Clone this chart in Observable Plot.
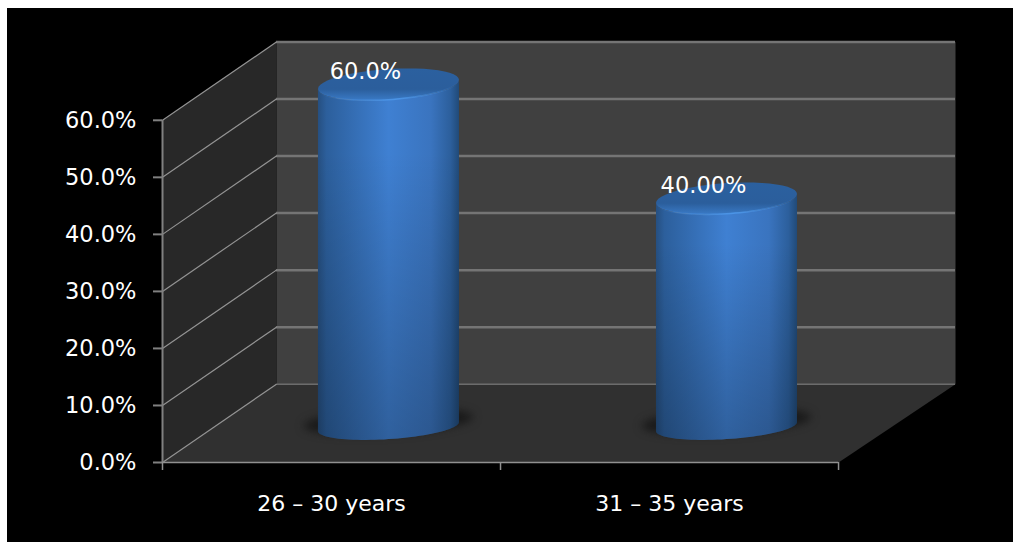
<!DOCTYPE html>
<html>
<head>
<meta charset="utf-8">
<script src="https://cdn.jsdelivr.net/npm/d3@7"></script>
<script src="https://cdn.jsdelivr.net/npm/@observablehq/plot@0.6"></script>
<style>
  html, body { margin: 0; padding: 0; background: #fff; overflow: hidden; }
  #chart { position: absolute; left: 7px; top: 8px; }
  #chart svg { display: block; background: #000; }
</style>
</head>
<body>
<div id="chart"></div>
<script>
// Share of respondents per age group
const categories = ["26 – 30 years", "31 – 35 years"];
const shares = [60, 40];
const shareLabels = ["60.0%", "40.00%"];
const axisTicks = [0, 10, 20, 30, 40, 50, 60];
const axisMax = 60;

// Oblique projection: one unit of depth moves right and up, in scale units
const depthX = 0.337;
const depthY = 13.73;
const xEnd = categories.length;
const backRight = 2.346;

// Cylinder outline, in scale units
const radiusX = 0.2086;
const tiltY = 0.79;
const radiusY = 2.69;
const baseRadiusY = 2.2;
const centreDepthX = depthX / 2;
const centreDepthY = 6.3;

const centreX = i => i + 0.5 + centreDepthX;
const centreY = v => v + centreDepthY;
const rimX = (i, t) => centreX(i) + radiusX * Math.cos(t);
const rimY = (v, t, ry = radiusY) => centreY(v) + tiltY * Math.cos(t) + ry * Math.sin(t);
const sweep = (from, to, n = 48) => d3.range(n + 1).map(k => from + (to - from) * k / n);

const backWall = [[depthX, depthY], [backRight, depthY], [backRight, axisMax + depthY], [depthX, axisMax + depthY]];
const sideWall = [[0, 0], [depthX, depthY], [depthX, axisMax + depthY], [0, axisMax]];
const floor = [[0, 0], [xEnd, 0], [backRight, depthY], [depthX, depthY]];

const bodies = shares.flatMap((v, i) => [
  ...sweep(Math.PI, 2 * Math.PI).map(t => ({ i, x: rimX(i, t), y: rimY(0, t, baseRadiusY) })),
  ...sweep(2 * Math.PI, Math.PI).map(t => ({ i, x: rimX(i, t), y: rimY(v, t) }))
]);
const caps = shares.flatMap((v, i) =>
  sweep(0, 2 * Math.PI).map(t => ({ i, x: rimX(i, t), y: rimY(v, t) })));
const lips = shares.flatMap((v, i) =>
  sweep(Math.PI * 1.02, Math.PI * 1.98).map(t => ({ i, x: rimX(i, t), y: rimY(v, t) })));
const shadows = shares.flatMap((v, i) =>
  sweep(0, 2 * Math.PI).map(t => ({
    i,
    x: centreX(i) + radiusX * 1.2 * Math.cos(t),
    y: rimY(0, t, baseRadiusY) + 0.9
  })));

// Gradients shared by the cylinder marks
function gradients() {
  const defs = d3.create("svg:defs");
  const add = (id, stops, vertical) => {
    const g = defs.append("linearGradient").attr("id", id)
      .attr("x1", 0).attr("y1", 0)
      .attr("x2", vertical ? 0 : 1).attr("y2", vertical ? 1 : 0);
    stops.forEach(([o, c, a]) => g.append("stop")
      .attr("offset", o).attr("stop-color", c).attr("stop-opacity", a));
  };
  add("cyl", [[0, "#264f80", 1], [0.06, "#2c5f9c", 1], [0.5, "#3f80d2", 1], [0.8, "#3a74bf", 1], [0.94, "#2c5f9c", 1], [1, "#214a78", 1]]);
  add("fade", [[0, "#000", 0], [0.2, "#000", 0], [1, "#000", 0.25]], true);
  add("cap", [[0, "#2b609f", 1], [0.65, "#2b5e9c", 1], [1, "#3a7ac6", 1]], true);
  add("lip", [[0, "#4b95e8", 0], [0.55, "#4b95e8", 1], [1, "#4b95e8", 0]]);
  return defs.node();
}

const polygon = (points, fill) => Plot.line(points, { x: d => d[0], y: d => d[1], fill, stroke: "none" });

const chart = Plot.plot({
  width: 1006,
  height: 534,
  marginLeft: 155,
  marginRight: 58,
  marginTop: 33.5,
  marginBottom: 80,
  style: { background: "#000", color: "#fff" },
  x: { domain: [0, backRight], axis: null },
  y: { domain: [0, axisMax + depthY], axis: null },
  marks: [
    gradients,
    polygon(backWall, "#404040"),
    polygon(sideWall, "#282828"),
    polygon(floor, "#303030"),

    // Gridlines across the back wall and along the side wall
    Plot.ruleY(axisTicks.filter(t => t > 0), { y: t => t + depthY, x1: depthX, x2: backRight, stroke: "#757575", strokeWidth: 2.5 }),
    Plot.ruleY([0], { y: t => t + depthY, x1: depthX, x2: backRight, stroke: "#8c8c8c", strokeWidth: 1 }),
    Plot.link(axisTicks, { x1: 0, y1: t => t, x2: depthX, y2: t => t + depthY, stroke: "#949494", strokeWidth: 1.2 }),

    // Axis lines and ticks
    Plot.ruleX([0], { y1: 0, y2: axisMax, stroke: "#808080", strokeWidth: 2 }),
    Plot.ruleY([0], { x1: 0, x2: xEnd, stroke: "#909090", strokeWidth: 1.5 }),
    Plot.axisY(axisTicks, {
      anchor: "left",
      label: null,
      tickSize: 9,
      tickPadding: 17,
      tickFormat: t => t.toFixed(1) + "%",
      stroke: "#808080",
      strokeWidth: 2,
      fill: "#fff",
      fontSize: 22.5,
      fontFamily: "DejaVu Sans"
    }),
    Plot.ruleX(d3.range(xEnd + 1), { x: d => d, y1: 0, y2: -1.4, stroke: "#909090", strokeWidth: 1.5 }),

    // Cylinders
    Plot.line(shadows, { x: "x", y: "y", z: "i", fill: "#191919", stroke: "none", imageFilter: "blur(4px)" }),
    Plot.line(bodies, { x: "x", y: "y", z: "i", fill: "url(#cyl)", stroke: "none" }),
    Plot.line(bodies, { x: "x", y: "y", z: "i", fill: "url(#fade)", stroke: "none" }),
    Plot.line(caps, { x: "x", y: "y", z: "i", fill: "url(#cap)", stroke: "none" }),
    Plot.line(lips, { x: "x", y: "y", z: "i", stroke: "url(#lip)", strokeWidth: 1.5 }),

    // Labels
    Plot.text(shares, {
      x: (v, i) => centreX(i),
      y: v => centreY(v),
      text: (v, i) => shareLabels[i],
      dx: -23,
      dy: -13,
      fill: "#fff",
      fontSize: 22.5,
      fontFamily: "DejaVu Sans"
    }),
    Plot.text(categories, {
      x: (c, i) => i + 0.5,
      y: 0,
      text: c => c,
      dy: 41,
      fill: "#fff",
      fontSize: 22,
      fontFamily: "DejaVu Sans"
    })
  ]
});

document.getElementById("chart").append(chart);
</script>
</body>
</html>
